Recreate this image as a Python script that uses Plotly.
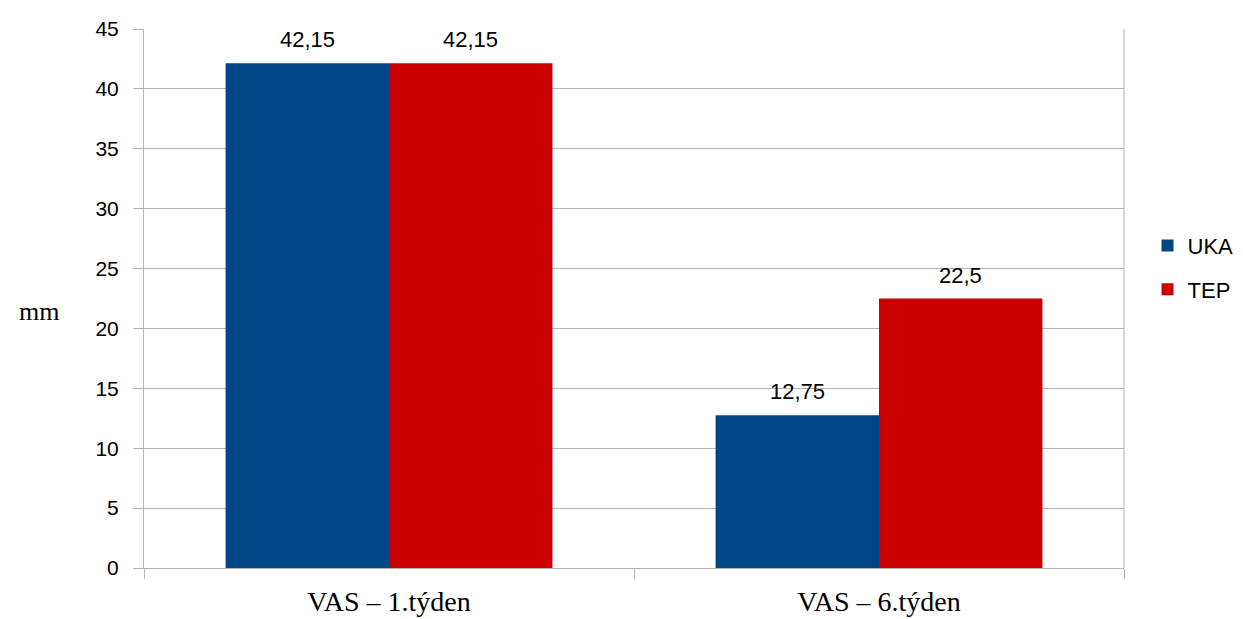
import plotly.graph_objects as go

# Data
categories = ["VAS – 1.týden", "VAS – 6.týden"]
uka_values = [42.15, 12.75]
tep_values = [42.15, 22.5]
series_names = ["UKA", "TEP"]
y_ticks = [0, 5, 10, 15, 20, 25, 30, 35, 40, 45]

colors = ["#004586", "#cc0000"]
BARGAP = 0.333

SANS = "Liberation Sans, Arial, sans-serif"
SERIF = "Liberation Serif, Times New Roman, serif"


def fmt(v):
    return f"{v:g}".replace(".", ",")


fig = go.Figure()
all_series = [uka_values, tep_values]
n_series = len(all_series)
bar_w = (1 - BARGAP) / n_series  # width of one bar in category units

for i, (name, vals) in enumerate(zip(series_names, all_series)):
    fig.add_trace(go.Bar(
        x=categories,
        y=vals,
        name=name,
        legendgroup=name,
        marker=dict(color=colors[i], line=dict(width=0)),
    ))
    # value labels centred over each bar
    offset = (i - (n_series - 1) / 2) * bar_w
    for j, v in enumerate(vals):
        fig.add_annotation(
            x=j + offset, y=v, xref="x", yref="y",
            text=fmt(v), showarrow=False,
            xanchor="center", yanchor="bottom", yshift=9,
            font=dict(family=SANS, size=22, color="#000000"),
        )

fig.update_layout(
    width=1243,
    height=619,
    margin=dict(l=144, r=119, t=29, b=51, autoexpand=False),
    paper_bgcolor="white",
    plot_bgcolor="white",
    barmode="group",
    bargap=BARGAP,
    bargroupgap=0,
    showlegend=True,
    legend=dict(
        x=1.024, y=0.557, xanchor="left", yanchor="middle",
        font=dict(family=SANS, size=22, color="#000000"),
        traceorder="grouped",
        tracegroupgap=12,
        itemwidth=30,
    ),
    xaxis=dict(
        type="category",
        automargin=False,
        showgrid=False,
        showline=True,
        linecolor="#b3b3b3",
        linewidth=1,
        ticks="outside",
        tickson="boundaries",
        ticklen=10,
        tickcolor="#b3b3b3",
        tickfont=dict(family=SERIF, size=28, color="#000000"),
        ticklabelstandoff=8,
    ),
    yaxis=dict(
        range=[0, 45],
        automargin=False,
        tickvals=y_ticks,
        ticktext=[str(t) for t in y_ticks],
        showgrid=True,
        gridcolor="#b3b3b3",
        gridwidth=1,
        showline=True,
        linecolor="#b3b3b3",
        linewidth=1,
        ticks="outside",
        ticklen=10,
        tickcolor="#b3b3b3",
        tickfont=dict(family=SANS, size=21, color="#000000"),
        ticklabelstandoff=10,
        zeroline=False,
    ),
)

# Right border of the plot area
fig.add_shape(type="line", xref="paper", yref="paper", x0=1, x1=1, y0=0, y1=1,
              line=dict(color="#b3b3b3", width=1))

# Axis unit label
fig.add_annotation(
    text="mm", xref="paper", yref="paper", x=-0.085, y=0.475,
    xanchor="right", yanchor="middle", showarrow=False,
    font=dict(family=SERIF, size=26, color="#000000"),
)

fig.write_html("out.html")
